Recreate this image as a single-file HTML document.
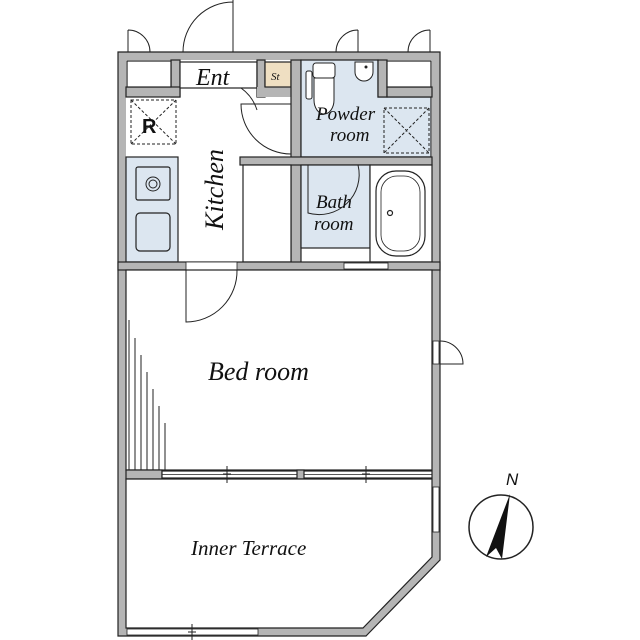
<!DOCTYPE html>
<html><head><meta charset="utf-8"><style>html,body{margin:0;padding:0;background:#fff}svg{display:block}text{font-family:"Liberation Serif",serif;font-style:italic;fill:#111}</style></head>
<body>
<svg width="640" height="640" viewBox="0 0 640 640" xmlns="http://www.w3.org/2000/svg">
<g stroke="#222" stroke-width="1.2">
<path d="M118,52 H440 V560 L366,636 H118 Z" fill="#b5b5b5"/>
<rect x="126" y="60" width="306" height="202" fill="#fff" stroke="none"/>
<rect x="171" y="60" width="9" height="37" fill="#b5b5b5"/>
<rect x="126" y="87" width="54" height="10" fill="#b5b5b5"/>
<rect x="127" y="61" width="44" height="26" fill="#fff"/>
<rect x="180" y="62" width="77" height="26" fill="#fff"/>
<rect x="257" y="60" width="8" height="37" fill="#b5b5b5"/>
<rect x="257" y="87" width="44" height="10" fill="#b5b5b5" stroke="none"/>
<rect x="265" y="62" width="26" height="25" fill="#efdfc2"/>
<rect x="291" y="60" width="10" height="205" fill="#b5b5b5"/>
<path d="M301,60 H378 V97 H431 V157 H301 Z" fill="#dce6f0"/>
<rect x="378" y="60" width="9" height="37" fill="#b5b5b5"/>
<rect x="387" y="87" width="45" height="10" fill="#b5b5b5"/>
<rect x="387" y="61" width="44" height="26" fill="#fff"/>
<rect x="240" y="157" width="192" height="8" fill="#b5b5b5"/>
<rect x="126" y="157" width="52" height="105" fill="#dce6f0"/>
<rect x="136" y="167" width="34" height="33" rx="2" fill="#dce6f0"/>
<rect x="136" y="213" width="34" height="38" rx="4" fill="#dce6f0"/>
<rect x="243" y="165" width="48" height="97" fill="#fff"/>
<rect x="301" y="165" width="69" height="83" fill="#dce6f0"/>
<rect x="370" y="165" width="62" height="97" fill="#fff"/>
<rect x="376" y="171" width="49" height="85" rx="20" fill="#fff"/>
<rect x="381" y="176" width="39" height="75" rx="16" fill="none" stroke-width="0.8"/>
<circle cx="390" cy="213" r="2.5" fill="#fff"/>
<rect x="118" y="262" width="322" height="8" fill="#b5b5b5"/>
<rect x="186" y="262" width="51" height="8" fill="#fff" stroke-width="0.8"/>
<rect x="344" y="263" width="44" height="6" fill="#fff" stroke-width="0.8"/>
<rect x="126" y="270" width="306" height="200" fill="#fff"/>
<rect x="126" y="470" width="36" height="9" fill="#b5b5b5"/>
<rect x="162" y="471" width="270" height="7" fill="#fff"/>
<line x1="162" y1="474.5" x2="432" y2="474.5" stroke-width="0.8"/>
<rect x="297" y="470" width="7" height="9" fill="#b5b5b5"/>
<path d="M126,479 H432 V557 L363,628 H126 Z" fill="#fff"/>
<rect x="127" y="629" width="131" height="6" fill="#fff" stroke-width="0.8"/>
<rect x="433" y="487" width="6" height="45" fill="#fff" stroke-width="0.8"/>
<rect x="433" y="341" width="6" height="23" fill="#fff" stroke-width="0.8"/>
</g>
<g stroke="#222" stroke-width="1" fill="none">
<line x1="227" y1="466" x2="227" y2="483"/><line x1="223" y1="474" x2="231" y2="474"/>
<line x1="366" y1="466" x2="366" y2="483"/><line x1="362" y1="474" x2="370" y2="474"/>
<line x1="192" y1="624" x2="192" y2="640"/><line x1="188" y1="632" x2="196" y2="632"/>
<line x1="129" y1="320" x2="129" y2="470"/><line x1="135" y1="338" x2="135" y2="470"/>
<line x1="141" y1="355" x2="141" y2="470"/><line x1="147" y1="372" x2="147" y2="470"/>
<line x1="153" y1="389" x2="153" y2="470"/><line x1="159" y1="406" x2="159" y2="470"/>
<line x1="165" y1="423" x2="165" y2="470"/>
<path d="M186,270 V322 A51,51 0 0 0 237,270"/>
<path d="M233,0 V52 M233,2 A50,50 0 0 0 183,52"/>
<path d="M128,30 V52 M128,30 A22,22 0 0 1 150,52"/>
<path d="M358,30 V52 M358,30 A22,22 0 0 0 336,52"/>
<path d="M430,30 V52 M430,30 A22,22 0 0 0 408,52"/>
<path d="M440,364 H463 A23,23 0 0 0 440,341"/>
<path d="M241,88 A43,43 0 0 1 257,110"/>
<path d="M291,104 H241 A50,50 0 0 0 291,154"/>
<path d="M308,165 V213 A40,40 0 0 0 358,165"/>
<rect x="131" y="100" width="45" height="44" stroke-dasharray="3,2"/>
<path d="M131,100 L176,144 M176,100 L131,144" stroke-dasharray="3,2"/>
<rect x="384" y="108" width="45" height="45" stroke-dasharray="3,2"/>
<path d="M384,108 L429,153 M429,108 L384,153" stroke-dasharray="3,2"/>
<circle cx="153" cy="184" r="7"/><circle cx="153" cy="184" r="4"/>
<rect x="313" y="63" width="22" height="15" rx="3" fill="#fff"/>
<rect x="306" y="71" width="6" height="28" rx="2" fill="#fff"/>
<path d="M314,78 H334 V100 A10,14 0 0 1 314,100 Z" fill="#fff"/>
<path d="M355,62 H373 V72 A9,9 0 0 1 355,72 Z" fill="#fff"/>
<circle cx="366" cy="67" r="1" fill="#222"/>
<circle cx="501" cy="527" r="32" stroke-width="1.5"/>
</g>
<path d="M510,494 L486,557 L496,548 L502,559 Z" fill="#111"/>
<text x="506" y="485" font-size="17" style="font-family:'Liberation Sans',sans-serif">N</text>
<text x="196" y="85" font-size="24">Ent</text>
<text x="271" y="80" font-size="11">St</text>
<text x="316" y="120" font-size="19">Powder</text>
<text x="330" y="141" font-size="19">room</text>
<text x="316" y="208" font-size="19">Bath</text>
<text x="314" y="230" font-size="19">room</text>
<text x="142" y="133" font-size="20" style="font-style:normal;font-family:'Liberation Sans',sans-serif;font-weight:bold">R</text>
<text x="0" y="0" font-size="26" transform="translate(223,230) rotate(-90)">Kitchen</text>
<text x="208" y="380" font-size="26">Bed  room</text>
<text x="191" y="555" font-size="21">Inner Terrace</text>
</svg>
</body></html>
